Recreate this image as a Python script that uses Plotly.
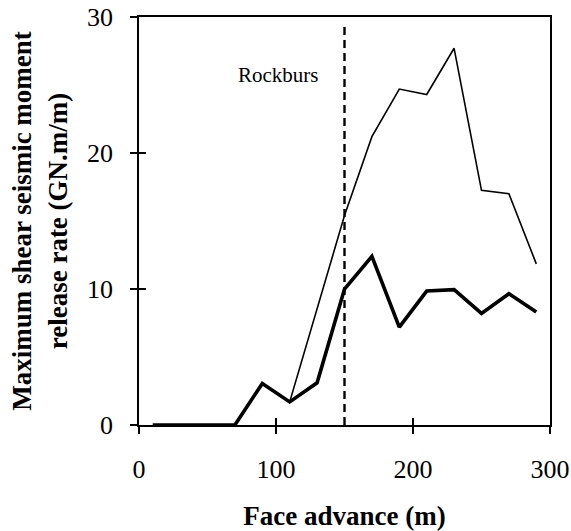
import plotly.graph_objects as go

face_advance = [10, 30, 50, 70, 90, 110, 130, 150, 170, 190, 210, 230, 250, 270, 290]
thick_rate = [0, 0, 0, 0, 3.05, 1.7, 3.1, 10.0, 12.4, 7.2, 9.85, 9.95, 8.2, 9.65, 8.3]
thin_x = [110, 130, 150, 170, 190, 210, 230, 250, 270, 290]
thin_rate = [1.7, 8.5, 15.4, 21.2, 24.7, 24.3, 27.7, 17.25, 17.0, 11.85]
rockburst_x = [150, 150]
rockburst_y = [0, 29.6]
x_ticks = [0, 100, 200, 300]
y_ticks = [0, 10, 20, 30]

font_family = "Liberation Serif"

fig = go.Figure()
fig.add_trace(go.Scatter(x=thin_x, y=thin_rate, mode="lines",
                         line=dict(color="black", width=1.6), showlegend=False))
fig.add_trace(go.Scatter(x=face_advance, y=thick_rate, mode="lines",
                         line=dict(color="black", width=3.6), showlegend=False))
fig.add_trace(go.Scatter(x=rockburst_x, y=rockburst_y, mode="lines", xaxis="x2", yaxis="y2",
                         line=dict(color="black", width=2.4, dash="8px,5px"), showlegend=False))

fig.add_annotation(x=102, y=25.7, text="Rockburs", showarrow=False,
                   font=dict(family=font_family, size=21, color="black"))

common = dict(showgrid=False, zeroline=False, tickwidth=1.5, tickcolor="black", ticklen=7,
              automargin=False)

fig.update_layout(
    width=571, height=531,
    margin=dict(l=139, r=21, t=17, b=106),
    paper_bgcolor="white", plot_bgcolor="white",
    font=dict(family=font_family, color="black"),
    xaxis=dict(range=[0, 300], tickvals=x_ticks, showline=True, linecolor="black", linewidth=1.5,
               mirror=True, ticks="outside",
               tickfont=dict(size=26, family=font_family), ticklabelstandoff=13,
               title=dict(text="<b>Face advance (m)</b>", font=dict(size=27, family=font_family), standoff=25),
               **common),
    yaxis=dict(range=[0, 30], tickvals=y_ticks, showline=True, linecolor="black", linewidth=1.5,
               mirror=True, ticks="outside",
               tickfont=dict(size=26, family=font_family), ticklabelstandoff=12,
               title=dict(text="<b>Maximum shear seismic moment<br>release rate (GN.m/m)</b>",
                          font=dict(size=27, family=font_family), standoff=12),
               **common),
    xaxis2=dict(range=[0, 300], tickvals=x_ticks, overlaying="x", anchor="y2", matches="x",
                ticks="inside", showticklabels=False, showline=False, **common),
    yaxis2=dict(range=[0, 30], tickvals=y_ticks, overlaying="y", anchor="x2", matches="y",
                ticks="inside", showticklabels=False, showline=False, **common),
)

fig.write_html("out.html")
